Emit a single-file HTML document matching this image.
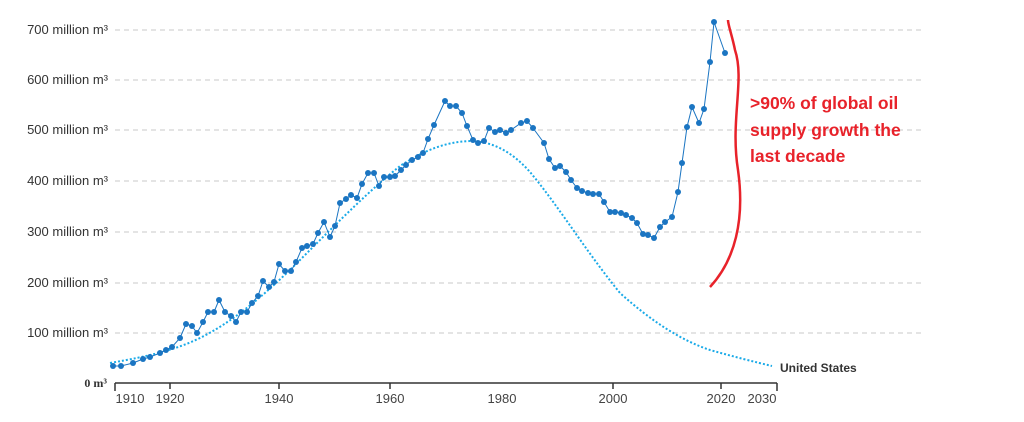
<!DOCTYPE html>
<html><head><meta charset="utf-8"><style>
body{margin:0;background:#fff;width:1024px;height:417px;overflow:hidden}
</style></head><body>
<svg width="1024" height="417" xmlns="http://www.w3.org/2000/svg" font-family="Liberation Sans, sans-serif">
<g stroke="#c8c8c8" stroke-dasharray="5,4" stroke-width="1">
<line x1="115" x2="925" y1="30" y2="30"/><line x1="115" x2="925" y1="80" y2="80"/>
<line x1="115" x2="925" y1="130" y2="130"/><line x1="115" x2="925" y1="181" y2="181"/>
<line x1="115" x2="925" y1="232" y2="232"/><line x1="115" x2="925" y1="283" y2="283"/>
<line x1="115" x2="925" y1="333" y2="333"/>
</g>
<g font-size="13" fill="#333" text-anchor="end">
<text x="108" y="34">700  million m³</text><text x="108" y="84">600 million m³</text>
<text x="108" y="134">500 million m³</text><text x="108" y="185">400 million m³</text>
<text x="108" y="236">300 million m³</text><text x="108" y="287">200 million m³</text>
<text x="108" y="337">100 million m³</text>
<text x="107" y="387" font-family="Liberation Serif, serif" font-weight="bold" font-size="12">0 m³</text>
</g>
<g stroke="#333" stroke-width="1.5">
<line x1="115" x2="777" y1="383" y2="383"/>
<line x1="115" x2="115" y1="383" y2="391"/><line x1="170" x2="170" y1="383" y2="389"/>
<line x1="279" x2="279" y1="383" y2="389"/><line x1="390" x2="390" y1="383" y2="389"/>
<line x1="613" x2="613" y1="383" y2="389"/><line x1="721" x2="721" y1="383" y2="389"/>
<line x1="777" x2="777" y1="383" y2="391"/>
</g>
<g font-size="13" fill="#444" text-anchor="middle">
<text x="130" y="403">1910</text><text x="170" y="403">1920</text><text x="279" y="403">1940</text>
<text x="390" y="403">1960</text><text x="502" y="403">1980</text><text x="613" y="403">2000</text>
<text x="721" y="403">2020</text><text x="762" y="403">2030</text>
</g>
<path fill="none" stroke="#1aaae8" stroke-width="2" stroke-dasharray="2,2" d="M110,363 C150,356 175,350 200,338 C230,323 260,300 300,260 C340,220 370,190 400,166 C425,150 445,142 470,141 C495,141 515,155 530,172 C560,208 585,250 620,293 C650,320 680,340 710,350 C735,357 755,362 772,366"/>
<text x="780" y="372" font-size="12" font-weight="bold" fill="#333">United States</text>
<g fill="#1b75c2" stroke="#1b75c2">
<polyline fill="none" stroke-width="1" points="113,366 121,366 133,363 143,359 150,357 160,353 166,350 172,347 180,338 186,324 192,326 197,333 203,322 208,312 214,312 219,300 225,312 231,316 236,322 241,312 247,312 252,303 258,296 263,281 269,287 274,282 279,264 285,271 291,271 296,262 302,248 307,246 313,244 318,233 324,222 330,237 335,226 340,203 346,199 351,195 357,198 362,184 368,173 374,173 379,186 384,177 390,177 395,176 401,170 406,165 412,160 418,157 423,153 428,139 434,125 445,101 450,106 456,106 462,113 467,126 473,140 478,143 484,141 489,128 495,132 500,130 506,133 511,130 521,123 527,121 533,128 544,143 549,159 555,168 560,166 566,172 571,180 577,188 582,191 588,193 593,194 599,194 604,202 610,212 615,212 621,213 626,215 632,218 637,223 643,234 648,235 654,238 660,227 665,222 672,217 678,192 682,163 687,127 692,107 699,123 704,109 710,62 714,22 725,53"/>
<g stroke="none">
<circle cx="113" cy="366" r="3"/><circle cx="121" cy="366" r="3"/><circle cx="133" cy="363" r="3"/><circle cx="143" cy="359" r="3"/><circle cx="150" cy="357" r="3"/><circle cx="160" cy="353" r="3"/><circle cx="166" cy="350" r="3"/><circle cx="172" cy="347" r="3"/><circle cx="180" cy="338" r="3"/><circle cx="186" cy="324" r="3"/><circle cx="192" cy="326" r="3"/><circle cx="197" cy="333" r="3"/><circle cx="203" cy="322" r="3"/><circle cx="208" cy="312" r="3"/><circle cx="214" cy="312" r="3"/><circle cx="219" cy="300" r="3"/><circle cx="225" cy="312" r="3"/><circle cx="231" cy="316" r="3"/><circle cx="236" cy="322" r="3"/><circle cx="241" cy="312" r="3"/><circle cx="247" cy="312" r="3"/><circle cx="252" cy="303" r="3"/><circle cx="258" cy="296" r="3"/><circle cx="263" cy="281" r="3"/><circle cx="269" cy="287" r="3"/><circle cx="274" cy="282" r="3"/><circle cx="279" cy="264" r="3"/><circle cx="285" cy="271" r="3"/><circle cx="291" cy="271" r="3"/><circle cx="296" cy="262" r="3"/><circle cx="302" cy="248" r="3"/><circle cx="307" cy="246" r="3"/><circle cx="313" cy="244" r="3"/><circle cx="318" cy="233" r="3"/><circle cx="324" cy="222" r="3"/><circle cx="330" cy="237" r="3"/><circle cx="335" cy="226" r="3"/><circle cx="340" cy="203" r="3"/><circle cx="346" cy="199" r="3"/><circle cx="351" cy="195" r="3"/><circle cx="357" cy="198" r="3"/><circle cx="362" cy="184" r="3"/><circle cx="368" cy="173" r="3"/><circle cx="374" cy="173" r="3"/><circle cx="379" cy="186" r="3"/><circle cx="384" cy="177" r="3"/><circle cx="390" cy="177" r="3"/><circle cx="395" cy="176" r="3"/><circle cx="401" cy="170" r="3"/><circle cx="406" cy="165" r="3"/><circle cx="412" cy="160" r="3"/><circle cx="418" cy="157" r="3"/><circle cx="423" cy="153" r="3"/><circle cx="428" cy="139" r="3"/><circle cx="434" cy="125" r="3"/><circle cx="445" cy="101" r="3"/><circle cx="450" cy="106" r="3"/><circle cx="456" cy="106" r="3"/><circle cx="462" cy="113" r="3"/><circle cx="467" cy="126" r="3"/><circle cx="473" cy="140" r="3"/><circle cx="478" cy="143" r="3"/><circle cx="484" cy="141" r="3"/><circle cx="489" cy="128" r="3"/><circle cx="495" cy="132" r="3"/><circle cx="500" cy="130" r="3"/><circle cx="506" cy="133" r="3"/><circle cx="511" cy="130" r="3"/><circle cx="521" cy="123" r="3"/><circle cx="527" cy="121" r="3"/><circle cx="533" cy="128" r="3"/><circle cx="544" cy="143" r="3"/><circle cx="549" cy="159" r="3"/><circle cx="555" cy="168" r="3"/><circle cx="560" cy="166" r="3"/><circle cx="566" cy="172" r="3"/><circle cx="571" cy="180" r="3"/><circle cx="577" cy="188" r="3"/><circle cx="582" cy="191" r="3"/><circle cx="588" cy="193" r="3"/><circle cx="593" cy="194" r="3"/><circle cx="599" cy="194" r="3"/><circle cx="604" cy="202" r="3"/><circle cx="610" cy="212" r="3"/><circle cx="615" cy="212" r="3"/><circle cx="621" cy="213" r="3"/><circle cx="626" cy="215" r="3"/><circle cx="632" cy="218" r="3"/><circle cx="637" cy="223" r="3"/><circle cx="643" cy="234" r="3"/><circle cx="648" cy="235" r="3"/><circle cx="654" cy="238" r="3"/><circle cx="660" cy="227" r="3"/><circle cx="665" cy="222" r="3"/><circle cx="672" cy="217" r="3"/><circle cx="678" cy="192" r="3"/><circle cx="682" cy="163" r="3"/><circle cx="687" cy="127" r="3"/><circle cx="692" cy="107" r="3"/><circle cx="699" cy="123" r="3"/><circle cx="704" cy="109" r="3"/><circle cx="710" cy="62" r="3"/><circle cx="714" cy="22" r="3"/><circle cx="725" cy="53" r="3"/>
</g></g>
<path d="M710,287 C735,260 745,220 738,170 C730,120 745,80 735,50 C732,35 728,25 728,20" fill="none" stroke="#e8222a" stroke-width="2.5"/>
<g font-size="17.5" font-weight="bold" fill="#e8222a">
<text x="750" y="109">&gt;90% of global oil</text>
<text x="750" y="136">supply growth the</text>
<text x="750" y="162">last decade</text>
</g>
</svg>
</body></html>
